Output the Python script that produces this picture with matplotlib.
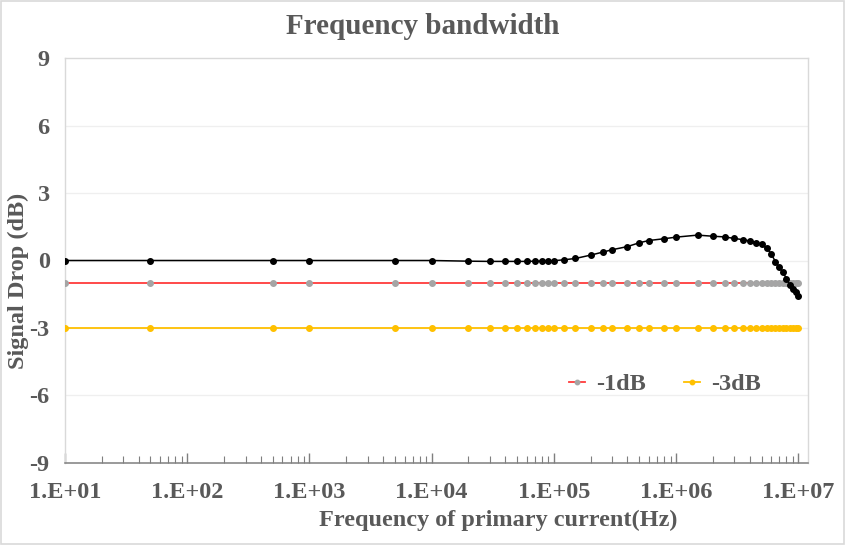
import matplotlib.pyplot as plt
from matplotlib.patches import Rectangle

# data
freq = [10, 50, 500, 1000, 5000, 1e4, 2e4, 3e4, 4e4, 5e4, 6e4, 7e4, 8e4, 9e4,
        1e5, 1.2e5, 1.5e5, 2e5, 2.5e5, 3e5, 4e5, 5e5, 6e5, 8e5, 1e6, 1.5e6,
        2e6, 2.5e6, 3e6, 3.5e6, 4e6, 4.5e6, 5e6, 5.5e6, 6e6, 6.5e6, 7e6,
        7.5e6, 8e6, 8.5e6, 9e6, 9.5e6, 1e7]
signal = [0.0, 0.0, 0.0, 0.0, 0.0, 0.0, -0.03, -0.04, -0.04, -0.04, -0.04, -0.03,
          -0.03, -0.02, -0.01, 0.03, 0.09, 0.24, 0.37, 0.48, 0.62, 0.79, 0.89,
          0.97, 1.04, 1.13, 1.08, 1.05, 0.98, 0.93, 0.87, 0.80, 0.72, 0.55, 0.30,
          -0.06, -0.31, -0.53, -0.81, -1.08, -1.27, -1.42, -1.60]
minus1 = [-1] * len(freq)
minus3 = [-3] * len(freq)

yticks = [-9, -6, -3, 0, 3, 6, 9]
xticks = [1e1, 1e2, 1e3, 1e4, 1e5, 1e6, 1e7]
xticklabels = ["1.E+01", "1.E+02", "1.E+03", "1.E+04", "1.E+05", "1.E+06", "1.E+07"]

txt = "#595959"
plt.rcParams['font.family'] = ['Liberation Serif', 'DejaVu Serif']
plt.rcParams['font.weight'] = 'bold'
plt.rcParams['axes.unicode_minus'] = False

fig = plt.figure(figsize=(8.46, 5.45), dpi=100)
ax = fig.add_axes([65 / 846, 1 - 462.7 / 545, (808 - 65) / 846, (462.7 - 58.3) / 545])

ax.plot(freq, signal, color="black", lw=1.1, marker="o", ms=4, zorder=4)
ax.plot(freq, minus1, color="#FF3B3B", lw=1.3, marker="o", ms=4,
        mfc="#A5A5A5", mec="#A5A5A5", label="-1dB", zorder=3)
ax.plot(freq, minus3, color="#FFC000", lw=1.3, marker="o", ms=4,
        label="-3dB", zorder=3)

ax.set_xscale("log")
ax.set_xlim(10, 1.2e7)
ax.set_ylim(-9, 9)
ax.set_yticks(yticks)
ax.set_xticks(xticks)
ax.set_xticklabels(xticklabels)

for y in [-6, -3, 0, 3, 6]:
    ax.axhline(y, color="#EFEFEF", lw=0.9, zorder=0)

for s in ["top", "right", "left"]:
    ax.spines[s].set_color("#D9D9D9")
    ax.spines[s].set_linewidth(1.0)
ax.spines["bottom"].set_color("#7F7F7F")
ax.spines["bottom"].set_linewidth(1.1)

ax.tick_params(axis="x", which="major", direction="in", length=7, width=1,
               color="#7F7F7F", labelsize=17.5, labelcolor=txt, pad=14)
ax.tick_params(axis="x", which="minor", direction="in", length=5, width=0.8,
               color="#7F7F7F")
ax.tick_params(axis="y", length=0, labelsize=17.5, labelcolor=txt, pad=11)

fig.text(423 / 846, 1 - 26 / 545, "Frequency bandwidth", ha="center", va="center",
         fontsize=21, color=txt, fontweight="bold")
fig.text(18 / 846, 1 - 281 / 545, "Signal Drop (dB)", rotation=90, ha="center",
         va="center", fontsize=17.5, color=txt, fontweight="bold")
fig.text(498 / 846, 1 - 520 / 545, "Frequency of primary current(Hz)", ha="center",
         va="center", fontsize=17.5, color=txt, fontweight="bold")

leg = ax.legend(loc="center", bbox_to_anchor=(665 / 846, 1 - 384 / 545),
                bbox_transform=fig.transFigure, ncol=2, frameon=False,
                fontsize=17.5, handlelength=0.65, columnspacing=1.6, handletextpad=0.45,
                markerscale=0.8)
for t in leg.get_texts():
    t.set_color(txt)

fig.patches.append(Rectangle((0.001, 0.002), 0.997, 0.996, transform=fig.transFigure,
                             fill=False, edgecolor="#D9D9D9", lw=1.2))

fig.savefig("out.png", dpi=100)
